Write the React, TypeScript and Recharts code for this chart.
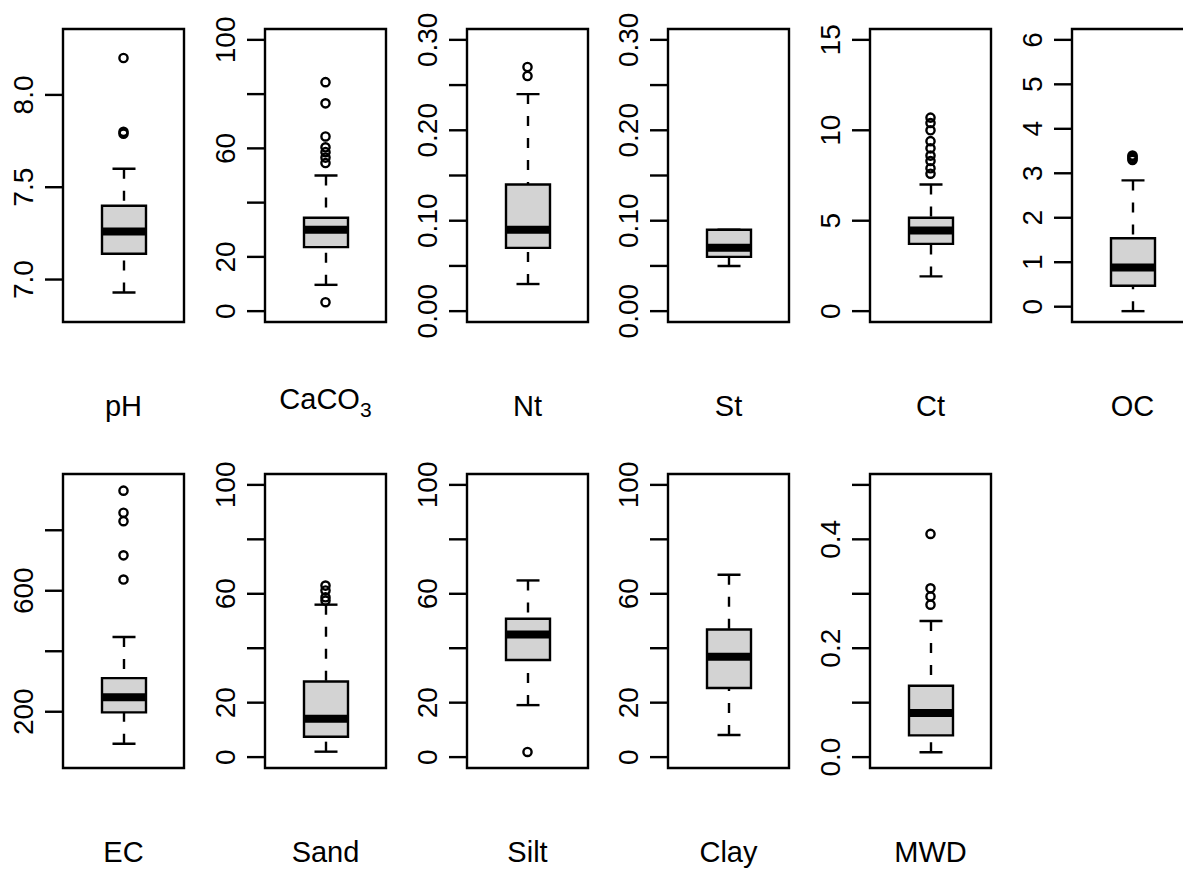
import { ComposedChart, Bar, Scatter, XAxis, YAxis, ReferenceArea } from 'recharts'

// soil properties, one boxplot each
const properties = ['pH', 'CaCO3', 'Nt', 'St', 'Ct', 'OC', 'EC', 'Sand', 'Silt', 'Clay', 'MWD']

// five-number summaries
const lowerWhisker = [6.93, 9.7, 0.03, 0.05, 1.92, -0.1, 94, 2.0, 19.1, 8.1, 0.009]
const lowerHinge = [7.14, 23.6, 0.07, 0.06, 3.72, 0.47, 198, 7.5, 35.7, 25.4, 0.04]
const medians = [7.26, 30.0, 0.09, 0.07, 4.46, 0.88, 248, 14.1, 45.0, 36.9, 0.081]
const upperHinge = [7.4, 34.4, 0.14, 0.09, 5.16, 1.54, 311, 27.8, 50.8, 46.9, 0.131]
const upperWhisker = [7.6, 50.0, 0.24, 0.09, 7.0, 2.84, 447, 56.0, 64.9, 67.0, 0.25]

const outliers = [
    [8.2, 7.8, 7.79],
    [84.4, 76.6, 64.4, 60.4, 58.6, 56.6, 54.6, 3.3],
    [0.27, 0.26],
    [],
    [10.7, 10.4, 10.0, 9.4, 9.0, 8.6, 8.3, 7.9, 7.6],
    [3.4, 3.37, 3.33, 3.3],
    [931, 858, 830, 717, 637],
    [63.0, 61.2, 58.7, 57.5],
    [1.9],
    [],
    [0.41, 0.31, 0.295, 0.28],
]

// y axis limits and ticks per panel
const yDomains = [
    [6.77, 8.357], [-4, 104], [-0.012, 0.312], [-0.012, 0.312], [-0.6, 15.6], [-0.344, 6.244],
    [14, 986], [-4, 104], [-4, 104], [-4, 104], [-0.02, 0.52],
]
const pctTicks = [0, 20, 40, 60, 80, 100]
const pctLabels = ['0', '20', '', '60', '', '100']
const fracTicks = [0, 0.05, 0.1, 0.15, 0.2, 0.25, 0.3]
const fracLabels = ['0.00', '', '0.10', '', '0.20', '', '0.30']
const yTicks = [
    [7, 7.5, 8], pctTicks, fracTicks, fracTicks, [0, 5, 10, 15], [0, 1, 2, 3, 4, 5, 6],
    [200, 400, 600, 800], pctTicks, pctTicks, pctTicks, [0, 0.1, 0.2, 0.3, 0.4, 0.5],
]
const yTickLabels = [
    ['7.0', '7.5', '8.0'], pctLabels, fracLabels, fracLabels, ['0', '5', '10', '15'], ['0', '1', '2', '3', '4', '5', '6'],
    ['200', '', '600', ''], pctLabels, pctLabels, pctLabels, ['0.0', '', '0.2', '', '0.4', ''],
]

const FONT = '"Liberation Sans", Arial, Helvetica, sans-serif'
const COL_LEFT = [63, 265, 467, 668, 870, 1072]
const ROW_TOP = [29, 474]
const ROW_PLOT_H = [293, 294]
const CHART_W = 201
const CHART_H = 440
const AXIS_W = 63
const PLOT_W = 121
const LW = 2.4

const UpperWhisker = (props: any) => {
    const { x, y, width, height } = props
    const cx = x + width / 2
    const top = Math.min(y, y + height)
    const bottom = Math.max(y, y + height)
    return (
        <g>
            <line x1={cx} x2={cx} y1={top} y2={bottom} stroke="#000" strokeWidth={LW} strokeDasharray="10 12" />
            <line x1={cx - 11.5} x2={cx + 11.5} y1={top} y2={top} stroke="#000" strokeWidth={LW} />
        </g>
    )
}

const LowerWhisker = (props: any) => {
    const { x, y, width, height } = props
    const cx = x + width / 2
    const top = Math.min(y, y + height)
    const bottom = Math.max(y, y + height)
    return (
        <g>
            <line x1={cx} x2={cx} y1={bottom} y2={top} stroke="#000" strokeWidth={LW} strokeDasharray="10 12" />
            <line x1={cx - 11.5} x2={cx + 11.5} y1={bottom} y2={bottom} stroke="#000" strokeWidth={LW} />
        </g>
    )
}

const MedianMark = (props: any) => {
    const { cx, cy } = props
    return <line x1={cx - 22} x2={cx + 22} y1={cy} y2={cy} stroke="#000" strokeWidth={8} />
}

const OutlierMark = (props: any) => {
    const { cx, cy } = props
    return <circle cx={cx} cy={cy} r={4.1} fill="none" stroke="#000" strokeWidth={LW} />
}

const NameTick = (props: any) => {
    const { x, y, payload } = props
    if (payload.value === 'CaCO3') {
        return (
            <text x={x} y={y + 87} textAnchor="middle" fontSize={29} fontFamily={FONT} fill="#000">
                CaCO<tspan dy={8} fontSize={21}>3</tspan>
            </text>
        )
    }
    return (
        <text x={x} y={y + 94} textAnchor="middle" fontSize={29} fontFamily={FONT} fill="#000">
            {payload.value}
        </text>
    )
}

const Panel = ({ i }: { i: number }) => {
    const row = Math.floor(i / 6)
    const col = i % 6
    const marginTop = ROW_TOP[row] - row * CHART_H
    const plotH = ROW_PLOT_H[row]
    const name = properties[i]
    const ticks = yTicks[i]
    const labels = yTickLabels[i]

    const data = [{
        name,
        box: [lowerHinge[i], upperHinge[i]],
        up: [upperHinge[i], upperWhisker[i]],
        low: [lowerWhisker[i], lowerHinge[i]],
    }]
    const medianPts = [{ name, v: medians[i] }]
    const outlierPts = outliers[i].map((v) => ({ name, v }))

    const ValueTick = (p: any) => {
        const label = labels[ticks.indexOf(p.payload.value)]
        if (!label) return <g />
        return (
            <text x={33} y={p.y} transform={`rotate(-90, 33, ${p.y})`} textAnchor="middle"
                fontSize={28} fontFamily={FONT} fill="#000">
                {label}
            </text>
        )
    }

    return (
        <div style={{ position: 'absolute', left: COL_LEFT[col] - AXIS_W, top: row * CHART_H }}>
            <ComposedChart width={CHART_W} height={CHART_H} data={data}
                margin={{ top: marginTop, right: CHART_W - AXIS_W - PLOT_W, bottom: 0, left: 0 }}>
                <XAxis xAxisId="b" dataKey="name" type="category" allowDuplicatedCategory={false}
                    axisLine={false} tickLine={false} tickSize={0} tickMargin={0}
                    height={CHART_H - marginTop - plotH} tick={<NameTick />} interval={0} />
                <XAxis xAxisId="u" dataKey="name" type="category" allowDuplicatedCategory={false} hide />
                <XAxis xAxisId="l" dataKey="name" type="category" allowDuplicatedCategory={false} hide />
                <YAxis type="number" domain={yDomains[i]} allowDataOverflow ticks={ticks} interval={0}
                    width={AXIS_W} axisLine={false} tickSize={18}
                    tickLine={{ stroke: '#000', strokeWidth: LW }} tick={<ValueTick />} />

                <Bar xAxisId="u" dataKey="up" barSize={44} shape={<UpperWhisker />} isAnimationActive={false} />
                <Bar xAxisId="l" dataKey="low" barSize={44} shape={<LowerWhisker />} isAnimationActive={false} />
                <Bar xAxisId="b" dataKey="box" barSize={44} fill="#d3d3d3" stroke="#000" strokeWidth={LW}
                    isAnimationActive={false} />
                <Scatter xAxisId="b" data={medianPts} dataKey="v" shape={<MedianMark />} isAnimationActive={false} />
                <Scatter xAxisId="b" data={outlierPts} dataKey="v" shape={<OutlierMark />} isAnimationActive={false} />

                <ReferenceArea xAxisId="b" y1={yDomains[i][0]} y2={yDomains[i][1]} fill="none"
                    fillOpacity={0} stroke="#000" strokeWidth={LW} strokeOpacity={1} ifOverflow="visible" />
            </ComposedChart>
        </div>
    )
}

export default function App() {
    return (
        <div style={{ position: 'absolute', left: 0, top: 0, width: 1183, height: 869, overflow: 'hidden', background: '#fff' }}>
            {properties.map((p, i) => <Panel key={p} i={i} />)}
        </div>
    )
}
